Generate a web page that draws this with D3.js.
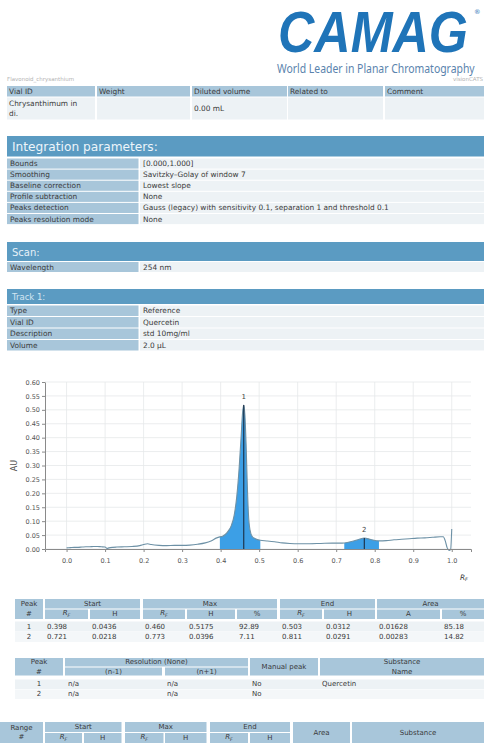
<!DOCTYPE html>
<html lang="en">
<head>
<meta charset="UTF-8">
<title>Densitogram report</title>
<script src="https://d3js.org/d3.v7.min.js"></script>
<style>
  body { margin: 0; background: #fff; }
  svg text { font-family: "DejaVu Sans", Verdana, sans-serif; }
</style>
</head>
<body>
<div id="page"></div>
<script>
// ---- data ----
const vialHeaders = ["Vial ID", "Weight", "Diluted volume", "Related to", "Comment"];
const vialValues = [["Chrysanthimum in", "di."], [], ["0.00 mL"], [], []];

const integrationLabels = ["Bounds", "Smoothing", "Baseline correction", "Profile subtraction", "Peaks detection", "Peaks resolution mode"];
const integrationValues = ["[0.000,1.000]", "Savitzky–Golay of window 7", "Lowest slope", "None",
  "Gauss (legacy) with sensitivity 0.1, separation 1 and threshold 0.1", "None"];

const scanLabels = ["Wavelength"];
const scanValues = ["254 nm"];

const trackLabels = ["Type", "Vial ID", "Description", "Volume"];
const trackValues = ["Reference", "Quercetin", "std 10mg/ml", "2.0 µL"];

// densitogram
const rfValues = [0.000, 0.010, 0.020, 0.030, 0.040, 0.050, 0.060, 0.070, 0.080, 0.090, 0.100, 0.105, 0.110, 0.120,
  0.130, 0.150, 0.170, 0.190, 0.200, 0.210, 0.220, 0.240, 0.260, 0.280, 0.300, 0.320, 0.340, 0.360, 0.375, 0.390,
  0.398, 0.405, 0.412, 0.420, 0.428, 0.435, 0.442, 0.448, 0.453, 0.457, 0.460, 0.463, 0.466, 0.469, 0.472, 0.476,
  0.482, 0.490, 0.503, 0.520, 0.540, 0.560, 0.580, 0.600, 0.630, 0.660, 0.690, 0.710, 0.721, 0.740, 0.760, 0.773,
  0.790, 0.811, 0.830, 0.850, 0.870, 0.890, 0.910, 0.930, 0.950, 0.970, 0.978, 0.983, 0.988, 0.993, 0.997, 1.000];
const auValues = [0.004, 0.005, 0.006, 0.006, 0.007, 0.008, 0.008, 0.009, 0.009, 0.008, 0.007, 0.002, 0.004, 0.006,
  0.007, 0.008, 0.009, 0.012, 0.016, 0.019, 0.016, 0.013, 0.012, 0.013, 0.013, 0.014, 0.017, 0.022, 0.029, 0.040,
  0.0436, 0.046, 0.052, 0.065, 0.085, 0.120, 0.190, 0.290, 0.400, 0.490, 0.5175, 0.480, 0.380, 0.240, 0.130, 0.070,
  0.045, 0.037, 0.0312, 0.029, 0.026, 0.022, 0.020, 0.019, 0.019, 0.020, 0.021, 0.021, 0.0218, 0.027, 0.035, 0.0396,
  0.034, 0.0291, 0.030, 0.033, 0.035, 0.037, 0.039, 0.040, 0.042, 0.044, 0.044, 0.030, 0.005, -0.005, -0.002, 0.072];

const yTickValues = [0, 0.05, 0.10, 0.15, 0.20, 0.25, 0.30, 0.35, 0.40, 0.45, 0.50, 0.55, 0.60];
const xTickValues = [0, 0.1, 0.2, 0.3, 0.4, 0.5, 0.6, 0.7, 0.8, 0.9, 1.0];

// peak table
const peakNo = ["1", "2"];
const startRf = [0.398, 0.721];
const startH = [0.0436, 0.0218];
const maxRf = [0.460, 0.773];
const maxH = [0.5175, 0.0396];
const maxPct = [92.89, 7.11];
const endRf = [0.503, 0.811];
const endH = [0.0312, 0.0291];
const areaA = [0.01628, 0.00283];
const areaPct = [85.18, 14.82];

// resolution table
const resPrev = ["n/a", "n/a"];
const resNext = ["n/a", "n/a"];
const manualPeak = ["No", "No"];
const substanceName = ["Quercetin", ""];

// ---- page ----
const W = 484, H = 743;
const svg = d3.select("#page").append("svg")
  .attr("width", W).attr("height", H);

const C = {
  bar: "#5b9bc2",
  label: "#a8c6da",
  value: "#edf2f5",
  text: "#3a3a3a"
};

function box(x0, x1, y0, y1, fill) {
  svg.append("rect")
    .attr("x", x0).attr("y", y0)
    .attr("width", x1 - x0).attr("height", y1 - y0)
    .attr("fill", fill);
}

function label(x, y, s, opt = {}) {
  return svg.append("text")
    .attr("x", x).attr("y", y)
    .attr("dominant-baseline", "central")
    .attr("text-anchor", opt.anchor || "start")
    .attr("font-size", opt.size || 7.4)
    .attr("fill", opt.fill || C.text)
    .text(s);
}

// "R_F" with italic R and subscript F
function rf(x, y, size) {
  const t = svg.append("text")
    .attr("x", x).attr("y", y)
    .attr("dominant-baseline", "central")
    .attr("text-anchor", "middle")
    .attr("font-size", size)
    .attr("fill", C.text)
    .style("font-style", "italic");
  t.append("tspan").text("R");
  t.append("tspan").attr("font-size", size * 0.7).attr("dy", size * 0.25).text("F");
  return t;
}

// squeeze a text horizontally so it is exactly `width` wide
function fitText(t, x, y, width) {
  const w = t.node().getComputedTextLength();
  t.attr("x", 0).attr("y", 0)
    .attr("transform", `translate(${x},${y}) scale(${width / w},1)`);
}

// header / logo
const logo = svg.append("text")
  .attr("font-weight", "bold").attr("font-style", "italic")
  .attr("font-size", 57)
  .attr("fill", "#1f74b8")
  .style("font-family", "Liberation Sans, Arial, sans-serif")
  .text("CAMAG");
fitText(logo, 278, 52, 190);
svg.append("text").attr("x", 474).attr("y", 14).attr("font-size", 6.5).attr("fill", "#1f74b8").text("®");
const slogan = svg.append("text")
  .attr("font-size", 12)
  .attr("fill", "#5a83ad")
  .style("font-family", "Noto Sans, sans-serif")
  .text("World Leader in Planar Chromatography");
fitText(slogan, 277, 72.5, 198);
label(7, 79, "Flavonoid_chrysanthium", { size: 5.5, fill: "#b3b3b3" });
label(483, 79, "visionCATS", { size: 5.5, fill: "#b3b3b3", anchor: "end" });

// vial table
const vialCols = [[7, 95], [97, 190], [192, 287], [288, 383], [385, 484]];
vialCols.forEach((c, i) => {
  box(c[0], c[1], 86, 96.5, C.label);
  box(c[0], c[1], 97.5, 119.5, C.value);
  label(c[0] + 2, 91.5, vialHeaders[i]);
  const lines = vialValues[i];
  lines.forEach((s, j) => label(c[0] + 2, 108.5 + (j - (lines.length - 1) / 2) * 10.5, s));
});

// key / value sections
function section(title, y0, y1, titleSize, titleFill, labels, values, rowTop, step) {
  box(7, 484, y0, y1, C.bar);
  label(12, (y0 + y1) / 2 + 0.5, title, { size: titleSize, fill: titleFill });
  labels.forEach((l, i) => {
    const top = rowTop + i * step;
    box(7, 138.5, top, top + step - 1, C.label);
    box(140, 484, top, top + step - 1, C.value);
    label(10, top + (step - 1) / 2, l);
    label(143, top + (step - 1) / 2, values[i]);
  });
}
section("Integration parameters:", 136, 156.5, 12.2, "#edf5fa", integrationLabels, integrationValues, 158.5, 11.1);
section("Scan:", 242, 261, 10, "#e6f1f8", scanLabels, scanValues, 262, 11);
section("Track 1:", 289, 304, 8.5, "#d3e6f2", trackLabels, trackValues, 305.5, 11.5);

// ---- densitogram ----
const x = d3.scaleLinear().domain([-0.056, 1.05]).range([45, 471]);
const y = d3.scaleLinear().domain([0, 0.6]).range([549, 382]);
const pts = rfValues.map((r, i) => [r, auValues[i]]);

const chart = svg.append("g");
chart.append("g").selectAll("line").data(xTickValues).join("line")
  .attr("x1", d => x(d)).attr("x2", d => x(d))
  .attr("y1", y(0.6)).attr("y2", y(0))
  .attr("stroke", "#e6e8ea").attr("stroke-width", 0.8);
chart.append("g").selectAll("line").data(yTickValues).join("line")
  .attr("x1", x.range()[0]).attr("x2", x.range()[1])
  .attr("y1", d => y(d)).attr("y2", d => y(d))
  .attr("stroke", "#e6e8ea").attr("stroke-width", 0.8);

const area = d3.area().x(d => x(d[0])).y0(y(0)).y1(d => y(d[1])).curve(d3.curveMonotoneX);
const line = d3.line().x(d => x(d[0])).y(d => y(d[1])).curve(d3.curveMonotoneX);

peakNo.forEach((p, i) => {
  const seg = pts.filter(d => d[0] >= startRf[i] && d[0] <= endRf[i]);
  chart.append("path").attr("d", area(seg)).attr("fill", "#3c9fe6");
});

chart.append("path").attr("d", line(pts))
  .attr("fill", "none").attr("stroke", "#6d91a6").attr("stroke-width", 1.1);

peakNo.forEach((p, i) => {
  chart.append("line")
    .attr("x1", x(maxRf[i])).attr("x2", x(maxRf[i]))
    .attr("y1", y(0)).attr("y2", y(maxH[i]))
    .attr("stroke", "#1b2d42").attr("stroke-width", 1.1);
  chart.append("text")
    .attr("x", x(maxRf[i])).attr("y", y(maxH[i]) - 6)
    .attr("text-anchor", "middle").attr("font-size", 7).attr("fill", "#444")
    .text(p);
});

const yAxis = chart.append("g").attr("transform", `translate(${x.range()[0]},0)`)
  .call(d3.axisLeft(y).tickValues(yTickValues).tickFormat(d3.format(".2f")).tickSize(3).tickSizeOuter(0).tickPadding(2));
const xAxis = chart.append("g").attr("transform", `translate(0,${y(0)})`)
  .call(d3.axisBottom(x).tickValues(xTickValues).tickFormat(d3.format(".1f")).tickSize(3).tickSizeOuter(3).tickPadding(6));
[yAxis, xAxis].forEach(a => {
  a.selectAll("path, line").attr("stroke", "#8a8a8a");
  a.selectAll("text").attr("fill", "#555").attr("font-size", 6.5)
    .attr("font-family", "DejaVu Sans, Verdana, sans-serif");
});

svg.append("text")
  .attr("transform", `translate(14,${(y(0) + y(0.6)) / 2}) rotate(-90)`)
  .attr("text-anchor", "middle").attr("dominant-baseline", "central")
  .attr("font-size", 8).attr("fill", "#555").text("AU");
rf(464, 577, 7.5);

// ---- peak table ----
function hcell(x0, x1, y0, y1, lines, isRf) {
  box(x0, x1, y0, y1, C.label);
  const cx = (x0 + x1) / 2, cy = (y0 + y1) / 2;
  if (isRf) { rf(cx, cy - 1, 7); return; }
  lines.forEach((s, j) => label(cx, cy + (j - (lines.length - 1) / 2) * 9.5, s, { anchor: "middle", size: 7 }));
}

hcell(15, 43, 599, 619, ["Peak", "#"]);
hcell(45, 140, 599, 608.5, ["Start"]);
hcell(143, 277, 599, 608.5, ["Max"]);
hcell(280, 375, 599, 608.5, ["End"]);
hcell(377, 484, 599, 608.5, ["Area"]);
const peakCols = [[45, 88], [90, 140], [143, 185], [187, 235], [237, 277], [280, 322], [324, 375], [377, 440], [442, 484]];
const peakSub = ["R", "H", "R", "H", "%", "R", "H", "A", "%"];
peakCols.forEach((c, i) => hcell(c[0], c[1], 609.5, 619, [peakSub[i]], peakSub[i] === "R"));

const peakRows = peakNo.map((p, i) => [
  startRf[i].toFixed(3), startH[i].toFixed(4), maxRf[i].toFixed(3), maxH[i].toFixed(4), maxPct[i].toFixed(2),
  endRf[i].toFixed(3), endH[i].toFixed(4), areaA[i].toFixed(5), areaPct[i].toFixed(2)]);
peakRows.forEach((row, r) => {
  const top = 621.5 + r * 10.5;
  box(15, 484, top, top + 10, r === 0 ? "#edf2f5" : "#f4f7f9");
  label(29, top + 5, peakNo[r], { anchor: "middle", size: 7 });
  row.forEach((v, i) => label(peakCols[i][0] + 2, top + 5, v, { size: 7 }));
});

// ---- resolution table ----
hcell(15, 63, 658, 675.5, ["Peak", "#"]);
hcell(65, 248, 658, 666.5, ["Resolution (None)"]);
hcell(65, 162, 667.5, 675.5, ["(n-1)"]);
hcell(165, 248, 667.5, 675.5, ["(n+1)"]);
hcell(250, 318, 658, 675.5, ["Manual peak"]);
hcell(320, 484, 658, 675.5, ["Substance", "Name"]);
peakNo.forEach((p, r) => {
  const top = 679.5 + r * 10;
  box(15, 484, top, top + 9.5, r === 0 ? "#edf2f5" : "#f4f7f9");
  label(39, top + 4.75, p, { anchor: "middle", size: 7 });
  label(68, top + 4.75, resPrev[r], { size: 7 });
  label(167, top + 4.75, resNext[r], { size: 7 });
  label(252, top + 4.75, manualPeak[r], { size: 7 });
  label(322, top + 4.75, substanceName[r], { size: 7 });
});

// ---- range table (header only, rest is off page) ----
hcell(0, 43, 722, 743, ["Range", "#"]);
hcell(45, 121.5, 722, 732, ["Start"]);
hcell(125, 206.5, 722, 732, ["Max"]);
hcell(210, 290, 722, 732, ["End"]);
hcell(293, 350, 722, 743, ["Area"]);
hcell(352, 484, 722, 743, ["Substance"]);
[[45, 82], [84, 121.5], [125, 163.5], [165, 206.5], [210, 248], [250, 290]].forEach((c, i) =>
  hcell(c[0], c[1], 733, 743, ["H"], i % 2 === 0));
</script>
</body>
</html>
